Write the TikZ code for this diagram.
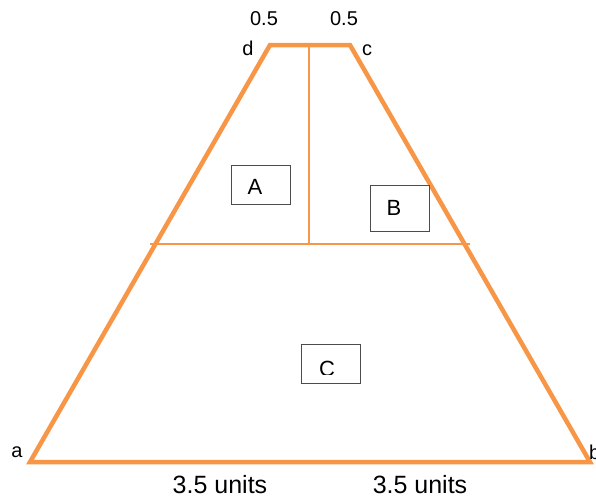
\documentclass[tikz,border=0pt]{standalone}
\usepackage{fontspec}
\setmainfont{Liberation Sans}
\definecolor{org}{HTML}{F79646}
\begin{document}
\begin{tikzpicture}[x=1pt,y=-1pt,
  thick edge/.style={draw=org,line width=4.5pt,line join=miter},
  thin edge/.style={draw=org,line width=2pt},
  labbox/.style={draw=black!70,line width=1pt,fill=white,inner sep=0pt},
  lab/.style={font=\fontsize{20}{22}\selectfont,inner sep=0pt},
  boxlab/.style={font=\fontsize{22}{24}\selectfont,inner sep=0pt},
  biglab/.style={font=\fontsize{25}{27}\selectfont,inner sep=0pt}]
\useasboundingbox (0,0) rectangle (596,499);
\coordinate (a) at (30,462);
\coordinate (b) at (590,462);
\coordinate (c) at (350,45);
\coordinate (d) at (270,45);
\coordinate (m) at (309,45);
\coordinate (mb) at (309,244);
\coordinate (hl) at (150,244);
\coordinate (hr) at (470,244);
\draw[thin edge] (m) -- (mb);
\draw[thin edge] (hl) -- (hr);
\draw[thick edge] (a) -- (b) -- (c) -- (d) -- cycle;
\node[labbox,minimum width=59pt,minimum height=39pt] (boxA) at (260.5,184.5) {};
\node[boxlab] (tA) at (255,187) {A};
\node[labbox,minimum width=59pt,minimum height=46pt] (boxB) at (399.5,208) {};
\node[boxlab] (tB) at (394,208) {B};
\node[labbox,minimum width=59pt,minimum height=39pt] (boxC) at (331,363.5) {};
\begin{scope}
\clip (300,340) rectangle (362,374.5);
\node[boxlab] (tC) at (327,369) {C};
\end{scope}
\node[lab] (l1) at (264,19) {0.5};
\node[lab] (l2) at (344,19) {0.5};
\node[lab] (ld) at (248,48) {d};
\node[lab] (lc) at (367,50) {c};
\node[lab] (la) at (17,452) {a};
\node[lab,anchor=west] (lb) at (589,452) {b};
\node[biglab] (u1) at (220,485) {3.5 units};
\node[biglab] (u2) at (420,485) {3.5 units};
\end{tikzpicture}
\end{document}
